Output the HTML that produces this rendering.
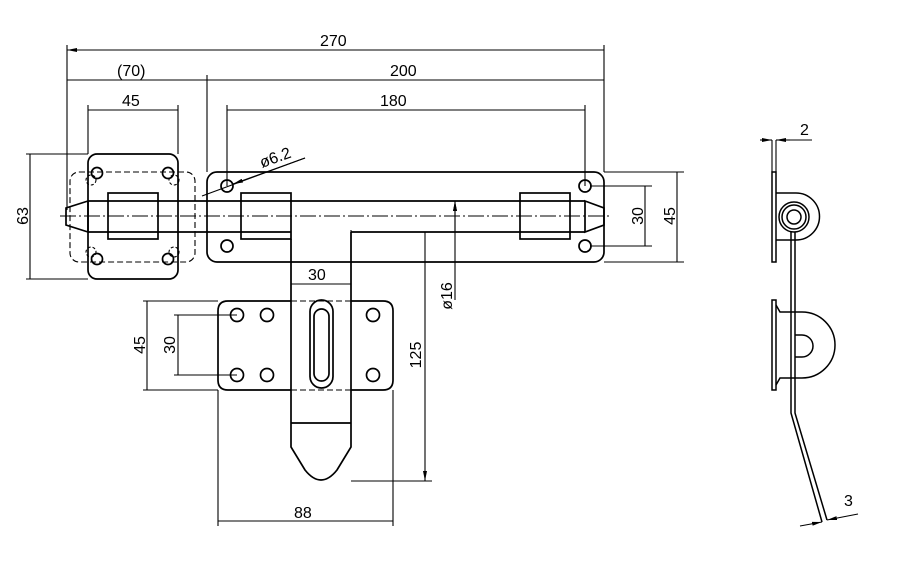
<!DOCTYPE html><html><head><style>body{margin:0;background:#fff}svg{display:block}text{font-family:"Liberation Sans",sans-serif;font-size:16px;fill:#000}</style></head><body>
<svg width="900" height="587" viewBox="0 0 900 587" xmlns="http://www.w3.org/2000/svg">
<defs><marker id="a" viewBox="0 0 10 4" refX="10" refY="2" markerWidth="10" markerHeight="4" orient="auto-start-reverse" markerUnits="userSpaceOnUse"><path d="M0,0L10,2L0,4z" fill="#000"/></marker></defs>
<g stroke="#000" fill="none" stroke-width="1.1">
<path d="M67,45V210M207,75V172M227,105V186M585,105V186M604,45V172M88,105V154M178,105V154"/>
<path d="M26,154H88M26,279H88M604,172H684M604,262H684M590,186H652M590,246H652M291,230V290M351,230V290M143,301H218M143,390H218M174,315H237M174,375H237M218,390V526M393,390V526M351,481H432"/>
<g marker-start="url(#a)" marker-end="url(#a)">
<path d="M67,50H604M67,80H207M207,80H604M227,110H585M88,110H178M30,154V279M677,172V262M645,186V246M291,284H351M147,301V390M178,315V375M218,521H393M425,232V481"/>
</g>
<path d="M455,201V300" marker-start="url(#a)"/>
<path d="M455,232V201" marker-end="url(#a)"/>
<path d="M305,158L202,196" /><path d="M305,158L233,184" marker-end="url(#a)"/>
<g stroke-width="1.7">
<rect x="88" y="154" width="90" height="125" rx="9"/>
<circle cx="97" cy="173" r="5.5"/><circle cx="168" cy="173" r="5.5"/><circle cx="97" cy="259" r="5.5"/><circle cx="168" cy="259" r="5.5"/>
<rect x="207" y="172" width="397" height="90" rx="10"/>
<circle cx="227" cy="186" r="6"/><circle cx="227" cy="246" r="6"/><circle cx="585" cy="186" r="6"/><circle cx="585" cy="246" r="6"/>
<path d="M88,201H585M88,232H291M351,232H585M88,201L66,208V225L88,232ZM585,201L604,208V225L585,232Z"/>
<rect x="108" y="193" width="50" height="46"/>
<rect x="241" y="193" width="50" height="46"/>
<rect x="520" y="193" width="50" height="46"/>
<path d="M291,239V447L305,470Q321,490 337,470L351,447V232M291,423H351"/>
<path d="M291,301H228Q218,301 218,311V380Q218,390 228,390H291M351,301H383Q393,301 393,311V380Q393,390 383,390H351"/>
<circle cx="237" cy="315" r="6.5"/><circle cx="267" cy="315" r="6.5"/><circle cx="237" cy="375" r="6.5"/><circle cx="267" cy="375" r="6.5"/><circle cx="373" cy="315" r="6.5"/><circle cx="373" cy="375" r="6.5"/>
<rect x="310" y="300" width="23" height="88" rx="11.5"/><rect x="314" y="309" width="15" height="72" rx="7.5"/>
</g>
<rect x="70" y="172" width="125" height="90" rx="9" stroke-dasharray="6,3"/>
<g stroke-dasharray="3,2"><circle cx="91" cy="180" r="5"/><circle cx="174" cy="180" r="5"/><circle cx="91" cy="252" r="5"/><circle cx="174" cy="252" r="5"/></g>
<path d="M60,216H610" stroke-dasharray="16,3,2,3"/>
<path d="M291,301H351M291,390H351" stroke-dasharray="6,3"/>
<path d="M772,140V172M776,140V172M776,140H812" />
<path d="M760,140H772" marker-end="url(#a)"/><path d="M790,140H776" marker-end="url(#a)"/>
<g stroke-width="1.5">
<rect x="772" y="172" width="4" height="90"/>
<path d="M776,193H796A23,23 0 0 1 796,240H776"/>
<circle cx="794" cy="217" r="15"/><circle cx="794" cy="217" r="12"/><circle cx="794" cy="217" r="7"/>
<rect x="772" y="300" width="4" height="90"/>
<path d="M776,305L780,312H802A33,33 0 0 1 802,378H780L776,385"/>
<path d="M795,335H802A10,10 0 0 1 802,357H795"/>
<path d="M791,232V413L822,522M795,232V413L827,520"/>
</g>
<path d="M800,526L822,522" marker-end="url(#a)"/><path d="M858,514L827,520" marker-end="url(#a)"/>
</g>
<text x="320" y="46">270</text><text x="117" y="76">(70)</text><text x="390" y="76">200</text><text x="380" y="106">180</text><text x="122" y="106">45</text>
<text x="308" y="280">30</text><text x="294" y="518">88</text><text x="800" y="135">2</text><text x="844" y="506">3</text>
<text transform="translate(28,216) rotate(-90)" text-anchor="middle">63</text>
<text transform="translate(643,216) rotate(-90)" text-anchor="middle">30</text>
<text transform="translate(675,216) rotate(-90)" text-anchor="middle">45</text>
<text transform="translate(145,345) rotate(-90)" text-anchor="middle">45</text>
<text transform="translate(175,345) rotate(-90)" text-anchor="middle">30</text>
<text transform="translate(421,355) rotate(-90)" text-anchor="middle">125</text>
<text transform="translate(452,296) rotate(-90)" text-anchor="middle">ø16</text>
<text transform="translate(262,168) rotate(-20)">ø6.2</text>
</svg></body></html>
